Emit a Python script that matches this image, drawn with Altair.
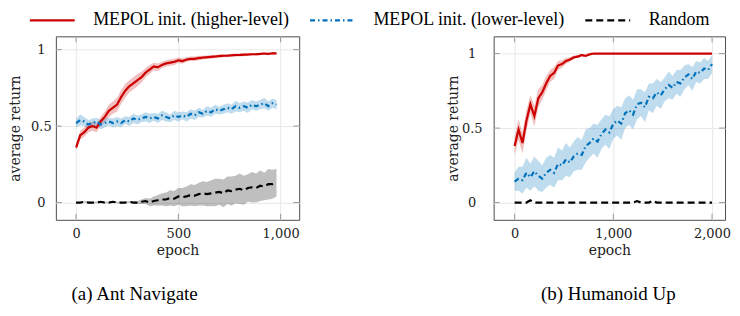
import altair as alt
import pandas as pd

SERIES = ["MEPOL init. (higher-level)", "MEPOL init. (lower-level)", "Random"]
LINE_COLORS = ["#cc0000", "#0072bd", "#000000"]
DASHES = [[1, 0], [5, 3, 1.5, 3], [7, 4]]

Y_TICKS = [0, 0.5, 1]

# ---------------- (a) Ant Navigate ----------------
ant_epoch = list(range(0, 1000, 20))
ant_higher = [0.36, 0.44, 0.46, 0.49, 0.50, 0.49, 0.53, 0.56, 0.60, 0.62,
              0.64, 0.69, 0.73, 0.76, 0.78, 0.80, 0.82, 0.85, 0.87, 0.89,
              0.885, 0.90, 0.91, 0.915, 0.92, 0.93, 0.925, 0.935, 0.94, 0.94,
              0.945, 0.948, 0.95, 0.953, 0.955, 0.958, 0.96, 0.96, 0.963, 0.965,
              0.965, 0.967, 0.968, 0.97, 0.97, 0.972, 0.974, 0.972, 0.976, 0.975]
ant_higher_err = [0.02, 0.03, 0.03, 0.03, 0.03, 0.03, 0.03, 0.035, 0.04, 0.04,
                  0.045, 0.045, 0.045, 0.04, 0.04, 0.04, 0.035, 0.03, 0.03, 0.025,
                  0.025, 0.02, 0.02, 0.02, 0.02, 0.018, 0.018, 0.015, 0.015, 0.015,
                  0.015, 0.012, 0.012, 0.012, 0.012, 0.01, 0.01, 0.01, 0.01, 0.01,
                  0.01, 0.01, 0.01, 0.008, 0.008, 0.008, 0.008, 0.008, 0.008, 0.008]
ant_lower = [0.52, 0.54, 0.53, 0.51, 0.52, 0.53, 0.51, 0.52, 0.53, 0.52,
             0.53, 0.52, 0.54, 0.53, 0.55, 0.54, 0.55, 0.56, 0.55, 0.56,
             0.55, 0.57, 0.56, 0.55, 0.57, 0.56, 0.57, 0.56, 0.58, 0.57,
             0.59, 0.58, 0.60, 0.59, 0.61, 0.60, 0.61, 0.62, 0.61, 0.63,
             0.62, 0.63, 0.62, 0.64, 0.63, 0.64, 0.65, 0.63, 0.65, 0.64]
ant_lower_err = [0.03, 0.035, 0.03, 0.03, 0.03, 0.025, 0.03, 0.03, 0.025, 0.03,
                 0.03, 0.03, 0.025, 0.03, 0.03, 0.03, 0.025, 0.03, 0.03, 0.025,
                 0.03, 0.03, 0.03, 0.025, 0.03, 0.03, 0.025, 0.03, 0.03, 0.03,
                 0.03, 0.025, 0.03, 0.03, 0.03, 0.025, 0.03, 0.03, 0.03, 0.035,
                 0.03, 0.03, 0.035, 0.03, 0.03, 0.03, 0.035, 0.03, 0.03, 0.03]
ant_random = [0.0, 0.0, 0.005, 0.0, 0.0, 0.0, 0.005, 0.0, 0.0, 0.005,
              0.0, 0.0, 0.0, 0.005, 0.0, 0.0, 0.005, 0.01, 0.0, 0.01,
              0.015, 0.02, 0.02, 0.03, 0.025, 0.04, 0.035, 0.04, 0.05, 0.045,
              0.055, 0.06, 0.055, 0.06, 0.065, 0.07, 0.06, 0.08, 0.075, 0.085,
              0.09, 0.08, 0.095, 0.1, 0.095, 0.11, 0.105, 0.12, 0.12, 0.13]
ant_random_err = [0.005, 0.005, 0.005, 0.005, 0.005, 0.005, 0.005, 0.005, 0.005, 0.005,
                  0.005, 0.005, 0.005, 0.005, 0.005, 0.01, 0.015, 0.02, 0.025, 0.03,
                  0.035, 0.04, 0.045, 0.05, 0.05, 0.055, 0.06, 0.065, 0.07, 0.07,
                  0.075, 0.08, 0.08, 0.085, 0.09, 0.085, 0.09, 0.09, 0.095, 0.09,
                  0.1, 0.095, 0.09, 0.1, 0.095, 0.1, 0.09, 0.1, 0.095, 0.09]

# ---------------- (b) Humanoid Up ----------------
hum_epoch = list(range(0, 2001, 40))
hum_higher = [0.38, 0.49, 0.40, 0.55, 0.66, 0.58, 0.70, 0.74, 0.80, 0.85,
              0.87, 0.92, 0.93, 0.95, 0.96, 0.975, 0.98, 0.99, 0.985, 0.995,
              1.0, 1.0, 1.0, 1.0, 1.0, 1.0, 1.0, 1.0, 1.0, 1.0,
              1.0, 1.0, 1.0, 1.0, 1.0, 1.0, 1.0, 1.0, 1.0, 1.0,
              1.0, 1.0, 1.0, 1.0, 1.0, 1.0, 1.0, 1.0, 1.0, 1.0, 1.0]
hum_higher_err = [0.06, 0.07, 0.07, 0.07, 0.06, 0.07, 0.06, 0.05, 0.05, 0.04,
                  0.04, 0.03, 0.025, 0.02, 0.015, 0.012, 0.01, 0.008, 0.006, 0.004,
                  0.0, 0.0, 0.0, 0.0, 0.0, 0.0, 0.0, 0.0, 0.0, 0.0,
                  0.0, 0.0, 0.0, 0.0, 0.0, 0.0, 0.0, 0.0, 0.0, 0.0,
                  0.0, 0.0, 0.0, 0.0, 0.0, 0.0, 0.0, 0.0, 0.0, 0.0, 0.0]
hum_lower = [0.14, 0.16, 0.15, 0.20, 0.17, 0.21, 0.18, 0.16, 0.20, 0.22,
             0.20, 0.26, 0.25, 0.29, 0.27, 0.31, 0.33, 0.32, 0.38, 0.40,
             0.43, 0.41, 0.46, 0.49, 0.47, 0.53, 0.55, 0.53, 0.60, 0.62,
             0.59, 0.66, 0.67, 0.64, 0.71, 0.70, 0.74, 0.72, 0.76, 0.79,
             0.77, 0.81, 0.80, 0.84, 0.86, 0.83, 0.88, 0.87, 0.90, 0.89, 0.93]
hum_lower_err = [0.06, 0.08, 0.09, 0.1, 0.09, 0.1, 0.1, 0.09, 0.1, 0.1,
                 0.1, 0.11, 0.1, 0.11, 0.1, 0.1, 0.11, 0.1, 0.11, 0.1,
                 0.1, 0.11, 0.1, 0.1, 0.11, 0.1, 0.1, 0.11, 0.1, 0.1,
                 0.1, 0.1, 0.09, 0.1, 0.09, 0.1, 0.09, 0.09, 0.08, 0.09,
                 0.08, 0.08, 0.09, 0.08, 0.07, 0.08, 0.07, 0.07, 0.07, 0.06, 0.06]
hum_random = [0.0, 0.0, 0.0, 0.0, 0.015, 0.0, 0.0, 0.0, 0.0, 0.0,
              0.0, 0.0, 0.0, 0.0, 0.0, 0.0, 0.0, 0.0, 0.0, 0.0,
              0.0, 0.0, 0.0, 0.0, 0.0, 0.0, 0.0, 0.0, 0.0, 0.0,
              0.0, 0.01, 0.0, 0.0, 0.0, 0.012, 0.0, 0.0, 0.0, 0.0,
              0.0, 0.0, 0.0, 0.0, 0.0, 0.0, 0.0, 0.0, 0.0, 0.0, 0.0]
hum_random_err = [0.0] * 51


def long_df(epochs, triples):
    rows = []
    for name, mean, err in triples:
        for e, m, s in zip(epochs, mean, err):
            rows.append({"epoch": e, "value": m, "lo": m - s, "hi": m + s, "series": name})
    return pd.DataFrame(rows)


ant_df = long_df(ant_epoch, [(SERIES[0], ant_higher, ant_higher_err),
                             (SERIES[1], ant_lower, ant_lower_err),
                             (SERIES[2], ant_random, ant_random_err)])
hum_df = long_df(hum_epoch, [(SERIES[0], hum_higher, hum_higher_err),
                             (SERIES[1], hum_lower, hum_lower_err),
                             (SERIES[2], hum_random, hum_random_err)])

TICK_FONT = "DejaVu Serif"
COLOR_SCALE = alt.Scale(domain=SERIES, range=LINE_COLORS)
DASH_SCALE = alt.Scale(domain=SERIES, range=DASHES)


def legend():
    return alt.Legend(
        title=None, orient="none", legendX=-12.6, legendY=-25, direction="horizontal",
        symbolType="M-4,0L4,0", symbolSize=126.6, symbolStrokeWidth=2.2, symbolOpacity=1,
        labelFont="Liberation Serif", labelFontSize=18, labelOffset=32,
        columnPadding=15, labelLimit=400, labelColor="black",
    )


def panel(df, xdom, ydom, xticks, width, height, caption, cap_dx, ylab_pad):
    def xenc(field):
        return alt.X(field, type="quantitative",
                     scale=alt.Scale(domain=xdom, nice=False, zero=False),
                     axis=alt.Axis(values=xticks, format=",d", title="epoch",
                                   grid=True, gridColor="#e8e8e8", ticks=False, tickSize=0,
                                   domain=False, labelFont=TICK_FONT, labelFontSize=13,
                                   labelColor="#222222", labelBaseline="middle", labelPadding=14,
                                   titleFont=TICK_FONT, titleFontSize=14, titleFontWeight="normal",
                                   titleColor="#222222", titleY=31, titleBaseline="middle"))

    def yenc(field):
        return alt.Y(field, type="quantitative",
                     scale=alt.Scale(domain=ydom, nice=False, zero=False),
                     axis=alt.Axis(values=Y_TICKS, format="~g", title="average return",
                                   grid=True, gridColor="#e8e8e8", ticks=False, tickSize=0,
                                   domain=False, labelFont=TICK_FONT, labelFontSize=13,
                                   labelColor="#222222", labelAlign="center", labelBaseline="middle",
                                   labelPadding=ylab_pad,
                                   titleFont=TICK_FONT, titleFontSize=14, titleFontWeight="normal",
                                   titleColor="#222222", titleX=-40, titleY=height / 2,
                                   titleAngle=270, titleAlign="center", titleBaseline="middle"))

    base = alt.Chart(df)
    bands = base.mark_area(opacity=0.25, clip=True).encode(
        x=xenc("epoch"), y=yenc("lo"), y2="hi",
        color=alt.Color("series:N", scale=COLOR_SCALE, legend=legend()),
    )
    lines = base.mark_line(strokeWidth=2.2, clip=True).encode(
        x=xenc("epoch"), y=yenc("value"),
        color=alt.Color("series:N", scale=COLOR_SCALE, legend=legend()),
        strokeDash=alt.StrokeDash("series:N", scale=DASH_SCALE, legend=legend()),
    )
    ytk = pd.DataFrame({"t": Y_TICKS})
    xtk = pd.DataFrame({"t": xticks})
    tick_l = alt.Chart(ytk).mark_rule(color="#9a9a9a", strokeWidth=1).encode(
        y=yenc("t"), x=alt.value(0), x2=alt.value(6))
    tick_r = alt.Chart(ytk).mark_rule(color="#9a9a9a", strokeWidth=1).encode(
        y=yenc("t"), x=alt.value(width - 6), x2=alt.value(width))
    tick_b = alt.Chart(xtk).mark_rule(color="#9a9a9a", strokeWidth=1).encode(
        x=xenc("t"), y=alt.value(height - 6), y2=alt.value(height))
    tick_t = alt.Chart(xtk).mark_rule(color="#9a9a9a", strokeWidth=1).encode(
        x=xenc("t"), y=alt.value(0), y2=alt.value(6))
    return alt.layer(bands, tick_l, tick_r, tick_b, tick_t, lines).properties(
        width=width, height=height,
        title=alt.TitleParams(caption, orient="bottom", anchor="middle", frame="group",
                              dx=cap_dx, offset=27, font="Liberation Serif", fontSize=19,
                              fontWeight="normal", color="black", baseline="top"),
    )


left = panel(ant_df, [-99, 1091], [-0.113, 1.087], [0, 500, 1000], 244, 184,
             "(a) Ant Navigate", -43, 15)
right = panel(hum_df, [-212.1, 2131.3], [-0.116, 1.116], [0, 1000, 2000], 232, 184,
              "(b) Humanoid Up", -1, 22)

chart = alt.hconcat(left, right, spacing=146).properties(
    padding={"left": 0, "top": 3, "right": 0, "bottom": 0}
).configure_view(stroke="#4d4d4d", strokeWidth=1)

chart.save("out.html", embed_options={"renderer": "svg", "actions": False})
